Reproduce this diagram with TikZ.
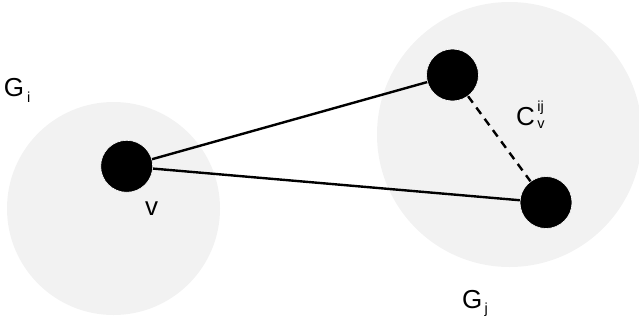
\documentclass[tikz,border=0pt]{standalone}
\usepackage{fontspec}
\setmainfont{Liberation Sans}
\newcommand{\bigtxt}{\fontsize{26}{26}\selectfont}
\newcommand{\smalltxt}{\fontsize{14.5}{14.5}\selectfont}
\definecolor{groupfill}{HTML}{F2F2F2}
\tikzset{
  group/.style={circle, fill=groupfill, draw=none, inner sep=0pt},
  vertex/.style={circle, fill=black, draw=white, line width=0.6pt, minimum size=52pt, inner sep=0pt},
  edge/.style={line width=2.4pt, black},
  cutedge/.style={edge, dash pattern=on 8pt off 6pt},
  lbl/.style={anchor=base west, inner sep=0pt, outer sep=0pt}
}
\begin{document}
\begin{tikzpicture}[x=1pt, y=-1pt]
  \useasboundingbox (0,0) rectangle (639,322);
  % the two groups
  \node[group, minimum size=213pt] (Gi) at (113.5,208.5) {};
  \node[group, minimum size=265pt] (Gj) at (509.5,134.5) {};
  % vertices
  \node[vertex] (v) at (126.7,166.3) {};
  \node[vertex] (a) at (452.5,75) {};
  \node[vertex] (b) at (546,202.5) {};
  % edges
  \draw[edge] (v) -- (a);
  \draw[edge] (v) -- (b);
  \draw[cutedge] (a) -- (b);
  % labels
  \node[lbl] (lGi) at (4,96) {\bigtxt G\kern3pt\raisebox{-6pt}{\smalltxt i}};
  \node[lbl] (lGj) at (462,308) {\bigtxt G\kern2.5pt\raisebox{-5pt}{\smalltxt j}};
  \node[lbl] (lC) at (516,125) {\bigtxt C\kern2.5pt\rlap{\raisebox{14pt}{\smalltxt ij}}\raisebox{-3pt}{\smalltxt v}};
  \node[lbl] (lv) at (145,215) {\bigtxt v};
\end{tikzpicture}
\end{document}
